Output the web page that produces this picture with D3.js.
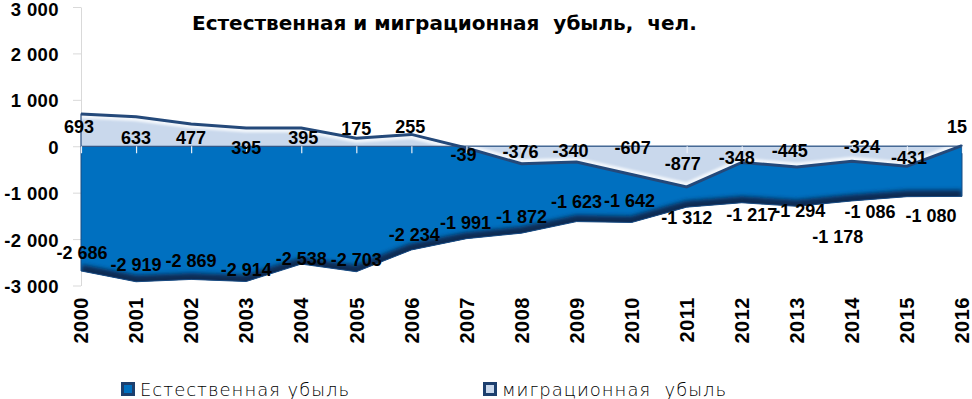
<!DOCTYPE html>
<html>
<head>
<meta charset="utf-8">
<script src="https://cdn.jsdelivr.net/npm/d3@7"></script>
<style>
  html, body { margin: 0; padding: 0; background: #fff; }
  svg { display: block; }
  text { white-space: pre; }
</style>
</head>
<body>
<svg id="chart"></svg>
<script>
// ---- data ----
const years = ["2000", "2001", "2002", "2003", "2004", "2005", "2006", "2007", "2008",
  "2009", "2010", "2011", "2012", "2013", "2014", "2015", "2016"];
const natural = [-2686, -2919, -2869, -2914, -2538, -2703, -2234, -1991, -1872,
  -1623, -1642, -1312, -1217, -1294, -1178, -1086, -1080];
const migration = [693, 633, 477, 395, 395, 175, 255, -39, -376,
  -340, -607, -877, -348, -445, -324, -431, 15];
const yTicks = [-3000, -2000, -1000, 0, 1000, 2000, 3000];
const seriesNames = ["Естественная убыль", "миграционная  убыль"];
const titleText = "Естественная и миграционная  убыль,  чел.";

// labels were dragged by hand in the original, so keep their nudges (px)
const natDx = [1, 0, 0, 0, 0, 0, 3, -1, 0, 0, -2, 0, 10, 3, -14, -37, -31];
const natDy = [-12, -11, -12, -6, 1, -6, -9, -10, -10, -14, -15, 17, 18, 11, 42, 21, 26];
const migDx = [-2, 0, 0, 0, 2, 0, -1, -3, -1, -6, 1, -4, -5, -7, 10, 2, -5];
const migDy = [19, 27, 20, 26, 16, -3, -1, 13, -6, -5, -20, -17, 2, -10, -8, -2, -13];

const width = 972, height = 399;
const numFont = "'Liberation Sans', Arial, sans-serif";

const fmt = d3.formatLocale({
  decimal: ",", thousands: " ", grouping: [3], currency: ["", ""], minus: "-"
}).format(",d");

const svg = d3.select("#chart")
  .attr("width", width)
  .attr("height", height);

const x = d3.scalePoint().domain(years).range([81, 962]);
const y = d3.scaleLinear().domain([-3000, 3000]).range([285.5, 7]);

const defs = svg.append("defs");
defs.append("filter").attr("id", "blur2")
  .attr("x", "-10%").attr("y", "-50%").attr("width", "120%").attr("height", "200%")
  .append("feGaussianBlur").attr("stdDeviation", 2);
defs.append("filter").attr("id", "blur1")
  .attr("x", "-10%").attr("y", "-50%").attr("width", "120%").attr("height", "200%")
  .append("feGaussianBlur").attr("stdDeviation", 1.2);

// ---- y axis ----
const yAxis = svg.append("g")
  .attr("transform", `translate(${x(years[0])},0)`)
  .call(d3.axisLeft(y).tickValues(yTicks).tickSize(8).tickSizeOuter(0)
    .tickPadding(14).tickFormat(fmt));
yAxis.select(".domain").attr("stroke", "#d9d9d9");
yAxis.selectAll(".tick line").attr("stroke", "#d9d9d9");
yAxis.selectAll(".tick text")
  .attr("dy", (d) => d === 3000 ? "0.45em" : "0.38em") // top label kept inside the frame
  .attr("font-family", numFont)
  .attr("font-weight", "bold")
  .attr("font-size", "18.5px")
  .attr("letter-spacing", "0.4px")
  .attr("fill", "#000");

// ---- shapes ----
const areaOf = (vals) => d3.area()
  .x((d, i) => x(years[i]))
  .y0(y(0))
  .y1(d => y(d))(vals);
const lineOf = (vals) => d3.line()
  .x((d, i) => x(years[i]))
  .y(d => y(d))(vals);
const zeroLine = d3.line()([[x(years[0]), y(0)], [x(years[years.length - 1]), y(0)]]);

// natural decrease (behind)
defs.append("clipPath").attr("id", "natClip").append("path").attr("d", areaOf(natural));
svg.append("path").attr("d", areaOf(natural)).attr("fill", "#0070c0");
const natIn = svg.append("g").attr("clip-path", "url(#natClip)");
natIn.append("path").attr("d", lineOf(natural))
  .attr("fill", "none").attr("stroke", "#0b2a52").attr("stroke-width", 13)
  .attr("filter", "url(#blur2)");
natIn.append("path").attr("d", zeroLine)
  .attr("fill", "none").attr("stroke", "#49a6ee").attr("stroke-width", 10)
  .attr("filter", "url(#blur1)");
natIn.append("path")
  .attr("d", d3.line()([[x(years[0]), y(0)], [x(years[0]), y(-3000)]]))
  .attr("stroke", "#2f86cf").attr("stroke-width", 4).attr("filter", "url(#blur1)");
svg.append("path").attr("d", areaOf(natural))
  .attr("fill", "none").attr("stroke", "#1a4a80").attr("stroke-width", 1);

// migration decrease (front)
defs.append("clipPath").attr("id", "migClip").append("path").attr("d", areaOf(migration));
svg.append("path").attr("d", areaOf(migration)).attr("fill", "#c9d8ec");
const migIn = svg.append("g").attr("clip-path", "url(#migClip)");
migIn.append("path").attr("d", zeroLine)
  .attr("fill", "none").attr("stroke", "#7d8ea9").attr("stroke-width", 9)
  .attr("filter", "url(#blur2)");
migIn.append("path").attr("d", lineOf(migration))
  .attr("fill", "none").attr("stroke", "#f2f6fb").attr("stroke-width", 9)
  .attr("filter", "url(#blur1)");
svg.append("path").attr("d", areaOf(migration))
  .attr("fill", "none").attr("stroke", "#2a4f80").attr("stroke-width", 1.2);
svg.append("path").attr("d", lineOf(migration))
  .attr("fill", "none").attr("stroke", "#24497a").attr("stroke-width", 3);

// ---- x axis (ticks on the zero line) ----
const xAxis = svg.append("g")
  .attr("transform", `translate(0,${y(0)})`)
  .call(d3.axisBottom(x).tickSize(7).tickSizeOuter(0).tickFormat(""));
xAxis.select(".domain").remove();
xAxis.selectAll(".tick line").attr("stroke", "#e9eff7").attr("stroke-width", 1.2);

svg.append("g").selectAll("text")
  .data(years)
  .join("text")
  .attr("transform", d => `translate(${x(d)},297) rotate(-90)`)
  .attr("dy", "0.36em")
  .attr("text-anchor", "end")
  .attr("font-family", numFont)
  .attr("font-weight", "bold")
  .attr("font-size", "20px")
  .attr("letter-spacing", "0.5px")
  .text(d => d);

// ---- data labels ----
const labelStyle = sel => sel
  .attr("text-anchor", "middle")
  .attr("font-family", numFont)
  .attr("font-weight", "bold")
  .attr("font-size", "18px")
  .attr("fill", "#000");

svg.append("g").selectAll("text")
  .data(natural)
  .join("text")
  .attr("x", (d, i) => x(years[i]) + natDx[i])
  .attr("y", (d, i) => y(d) + natDy[i])
  .call(labelStyle)
  .text(d => fmt(d));

svg.append("g").selectAll("text")
  .data(migration)
  .join("text")
  .attr("x", (d, i) => x(years[i]) + migDx[i])
  .attr("y", (d, i) => y(d) + migDy[i])
  .call(labelStyle)
  .text(d => fmt(d));

// ---- title ----
svg.append("text")
  .attr("x", 192)
  .attr("y", 30)
  .attr("font-family", "'DejaVu Sans', sans-serif")
  .attr("font-weight", "bold")
  .attr("font-size", "20px")
  .text(titleText);

// ---- legend ----
const legendX = [121, 483];
const legendFill = ["#0070c0", "#c9d8ec"];
const legend = svg.append("g").selectAll("g")
  .data(seriesNames)
  .join("g")
  .attr("transform", (d, i) => `translate(${legendX[i]},382)`);
legend.append("rect")
  .attr("width", 14).attr("height", 14)
  .attr("fill", "#1c3f6e");
legend.append("rect")
  .attr("x", 3).attr("y", 3).attr("width", 8).attr("height", 8)
  .attr("fill", (d, i) => legendFill[i]);
legend.append("text")
  .attr("x", 19)
  .attr("y", 13.5)
  .attr("font-family", "'DejaVu Sans', sans-serif")
  .attr("font-weight", 200)
  .attr("font-size", "18px")
  .attr("letter-spacing", "1px")
  .text(d => d);
</script>
</body>
</html>
